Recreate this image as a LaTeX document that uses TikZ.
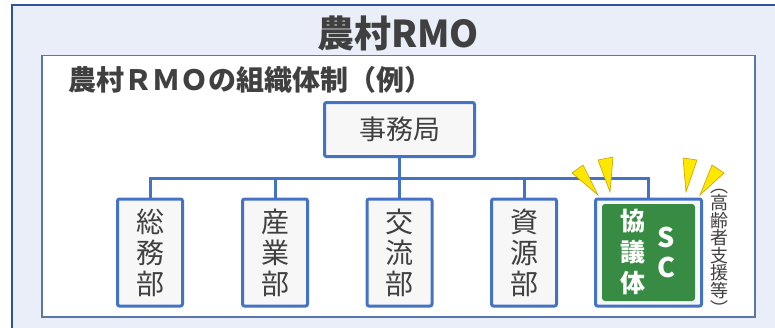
\documentclass[tikz,border=0pt]{standalone}
\usepackage{fontspec}
\setmainfont{Noto Sans CJK JP}
\usepackage{xcolor}
\definecolor{frameblue}{HTML}{2F5597}
\definecolor{paleblue}{HTML}{E9EEF8}
\definecolor{boxblue}{HTML}{4472C4}
\definecolor{boxfill}{HTML}{F7F7F7}
\definecolor{textgray}{HTML}{404040}
\definecolor{scgreen}{HTML}{388B43}
\definecolor{spikefill}{HTML}{FFE800}
\definecolor{spikeedge}{HTML}{C8A000}
\tikzset{
    outer-frame/.style = {draw=frameblue, fill=paleblue, line width=2.5pt},
    inner-frame/.style = {draw=frameblue!80, fill=white, line width=1.5pt},
    office-box/.style = {draw=boxblue, fill=boxfill, line width=3pt, rounded corners=2pt, minimum width=150pt, minimum height=54pt, text=textgray, font=\fontsize{27}{30}\selectfont},
    dept-box/.style = {draw=boxblue, fill=boxfill, line width=3pt, rounded corners=2pt, minimum width=65pt, minimum height=107pt, text=textgray, align=center, font=\fontsize{28}{31}\selectfont},
    link/.style = {draw=boxblue, line width=3pt},
    spike/.style = {fill=spikefill, draw=spikeedge, line width=0.6pt},
}

\begin{document}
\begin{tikzpicture}[x=1pt, y=-1pt]
\useasboundingbox (0,0) rectangle (775,327);
\clip (0,0) rectangle (775,327);
\fill[white] (0,0) rectangle (775,327);
% frames
\draw[outer-frame] (12,5) rectangle (790,340);
\draw[inner-frame] (42,55.5) rectangle (755,317);
\node[text=textgray, font=\fontsize{37}{40}\selectfont\bfseries] (title) at (398,33) {農村RMO};
\node[text=textgray, font=\fontsize{28}{30}\selectfont\bfseries, anchor=west, inner sep=0pt] (subtitle) at (68,80) {農村ＲＭＯの組織体制（例）};

% organisation
\node[office-box] (office) at (399.5,129.5) {事務局};
\node[dept-box] (general) at (150,252.5) {総\\務\\部};
\node[dept-box] (industry) at (275,252.5) {産\\業\\部};
\node[dept-box] (exchange) at (399.5,252.5) {交\\流\\部};
\node[dept-box] (resource) at (524,252.5) {資\\源\\部};
\node[draw=boxblue, fill=boxfill, line width=3pt, rounded corners=2pt, minimum width=106pt, minimum height=107pt] (sc) at (648.5,252.5) {};
\node[fill=scgreen, rounded corners=3pt, minimum width=93pt, minimum height=97pt] (scinner) at (sc) {};
\node[text=white, align=center, font=\fontsize{25}{31}\selectfont\bfseries] (sctext) at (633,252) {協\\議\\体};
\node[text=white, align=center, font=\fontsize{27}{30}\selectfont\bfseries] (scabbr) at (666,252) {S\\C};
\node[text=textgray, align=center, font=\fontsize{18}{16}\selectfont, inner sep=0pt] (note) at (719,252) {︵\\高\\齢\\者\\支\\援\\等\\︶};

% connectors
\coordinate (bar) at (0,178);
\draw[link] (office.south) -- (exchange.north);
\draw[link] (general.north) |- (bar -| sc.north) -- (sc.north);
\foreach \n in {industry, resource}
    \draw[link] (\n.north) -- (\n.north |- bar);

% highlight spikes
\draw[spike] (572,173) -- (583,165) -- (598,195) -- cycle;
\draw[spike] (598,160) -- (613,157) -- (610,192) -- cycle;
\draw[spike] (683,158) -- (697,160) -- (686,192) -- cycle;
\draw[spike] (712,165) -- (724,173) -- (700,195) -- cycle;
\end{tikzpicture}
\end{document}
